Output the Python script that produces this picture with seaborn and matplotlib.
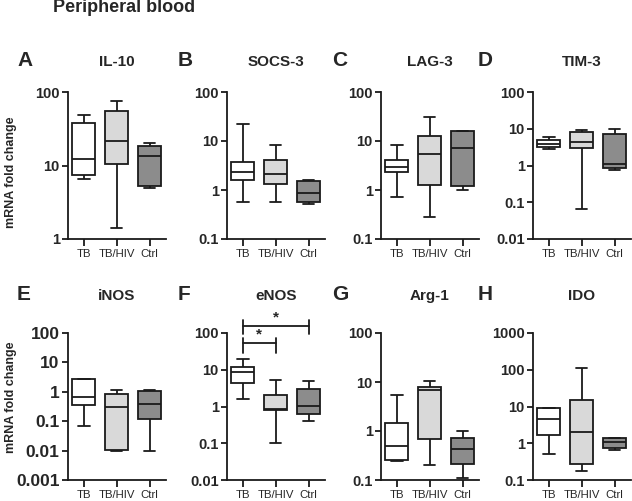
import numpy as np
import pandas as pd
import matplotlib
matplotlib.use("Agg")
import matplotlib.pyplot as plt
import seaborn as sns

sns.set_style("ticks")
plt.rcParams['font.family'] = ['Liberation Sans', 'DejaVu Sans']

groups = ["TB", "TB/HIV", "Ctrl"]
colors = ["#ffffff", "#d9d9d9", "#8c8c8c"]

# five-number summaries per group: min, q1, median, q3, max
il10 = {"TB": [6.65, 7.46, 12.4, 37.8, 49], "TB/HIV": [1.43, 10.6, 21.7, 54.5, 75], "Ctrl": [4.9, 5.2, 13.3, 18.4, 20.4]}
socs3 = {"TB": [0.58, 1.58, 2.3, 3.7, 22], "TB/HIV": [0.58, 1.31, 2.1, 4.06, 8.1], "Ctrl": [0.51, 0.56, 0.86, 1.54, 1.58]}
lag3 = {"TB": [0.72, 2.28, 2.97, 4.13, 8.1], "TB/HIV": [0.28, 1.27, 5.4, 12.4, 30.8], "Ctrl": [1.02, 1.21, 7.05, 15.9, 15.9]}
tim3 = {"TB": [2.86, 3.1, 3.74, 5.0, 6.04], "TB/HIV": [0.065, 2.92, 4.42, 8.26, 9.2], "Ctrl": [0.755, 0.855, 1.08, 7.13, 9.75]}
inos = {"TB": [0.069, 0.342, 0.676, 2.77, 2.77], "TB/HIV": [0.01, 0.0101, 0.316, 0.81, 1.14], "Ctrl": [0.01, 0.123, 0.39, 1.1, 1.14]}
enos = {"TB": [1.61, 4.4, 8.9, 11.7, 20.1], "TB/HIV": [0.103, 0.78, 0.88, 2.07, 5.4], "Ctrl": [0.41, 0.61, 1.02, 2.96, 4.87]}
arg1 = {"TB": [0.25, 0.26, 0.50, 1.44, 5.48], "TB/HIV": [0.206, 0.70, 6.94, 7.74, 10.4], "Ctrl": [0.112, 0.21, 0.42, 0.73, 1.02]}
ido = {"TB": [0.52, 1.69, 4.7, 9.0, 9.2], "TB/HIV": [0.18, 0.27, 2.0, 14.6, 113], "Ctrl": [0.67, 0.75, 1.11, 1.37, 1.43]}

titles = ["IL-10", "SOCS-3", "LAG-3", "TIM-3", "iNOS", "eNOS", "Arg-1", "IDO"]
letters = ["A", "B", "C", "D", "E", "F", "G", "H"]
datasets = [il10, socs3, lag3, tim3, inos, enos, arg1, ido]
yticks = [
    [1, 10, 100], [0.1, 1, 10, 100], [0.1, 1, 10, 100], [0.01, 0.1, 1, 10, 100],
    [0.001, 0.01, 0.1, 1, 10, 100], [0.01, 0.1, 1, 10, 100], [0.1, 1, 10, 100], [0.1, 1, 10, 100, 1000],
]
ytick_labels = [
    ["1", "10", "100"], ["0.1", "1", "10", "100"], ["0.1", "1", "10", "100"], ["0.01", "0.1", "1", "10", "100"],
    ["0.001", "0.01", "0.1", "1", "10", "100"], ["0.01", "0.1", "1", "10", "100"], ["0.1", "1", "10", "100"], ["0.1", "1", "10", "100", "1000"],
]

# eNOS significance brackets: (group a, group b, bracket level, tick low, tick high)
sig_brackets = [(0, 2, 155, 96, 220), (0, 1, 52, 28.6, 75)]

W, H = 632, 501
fig = plt.figure(figsize=(W / 100, H / 100), dpi=100)

lefts = [68, 227, 381, 533]
letter_x = [17, 178, 332, 478]
row_top = [92, 333]
row_bot = [239, 480]
title_y = [62, 296]
aw = 98
lc = "#1a1a1a"

for i, (d, t, let) in enumerate(zip(datasets, titles, letters)):
    r, c = divmod(i, 4)
    l = lefts[c]
    ax = fig.add_axes([l / W, 1 - row_bot[r] / H, aw / W, (row_bot[r] - row_top[r]) / H])
    df = pd.DataFrame([(g, v) for g in groups for v in d[g]], columns=["group", "value"])
    sns.boxplot(data=df, x="group", y="value", hue="group", order=groups, hue_order=groups,
                palette=colors, legend=False, width=0.7, whis=(0, 100), log_scale=True,
                linecolor=lc, linewidth=1.3, fliersize=0, ax=ax)
    ax.set_yscale("log")
    ax.set_ylim(yticks[i][0], yticks[i][-1])
    ax.set_xlim(-0.48, 2.5)
    ax.minorticks_off()
    ax.set_yticks(yticks[i])
    ax.set_yticklabels(ytick_labels[i], fontweight="bold", fontsize=(12.5 if i == 4 else 10.5))
    ax.set_xticks(range(3))
    ax.set_xticklabels(groups, fontsize=8.2)
    ax.set_xlabel("")
    ax.set_ylabel("")
    for s in ["top", "right"]:
        ax.spines[s].set_visible(False)
    for s in ["left", "bottom"]:
        ax.spines[s].set_linewidth(1.3)
        ax.spines[s].set_color(lc)
    ax.tick_params(axis="both", length=4, width=1.3, color=lc, pad=2)
    ax.tick_params(axis="x", length=5)
    fig.text((l + aw / 2) / W, 1 - title_y[r] / H, t, ha="center", va="center", fontsize=11, fontweight="bold")
    fig.text(letter_x[c] / W, 1 - (title_y[r] - 1) / H, let, ha="left", va="center", fontsize=15, fontweight="bold")
    if i == 5:
        for a, b, lvl, lo, hi in sig_brackets:
            ax.plot([a, b], [lvl, lvl], color=lc, lw=1.3, clip_on=False)
            for xx in (a, b):
                ax.plot([xx, xx], [lo, hi], color=lc, lw=1.3, clip_on=False)
            ax.text((a + b) / 2, lvl * 1.12, "*", ha="center", va="bottom", fontsize=11, fontweight="bold")

fig.text(11 / W, 1 - 172 / H, "mRNA fold change", rotation=90, ha="center", va="center", fontsize=9, fontweight="bold")
fig.text(11 / W, 1 - 397 / H, "mRNA fold change", rotation=90, ha="center", va="center", fontsize=9, fontweight="bold")
fig.text(53 / W, 1 - 8 / H, "Peripheral blood", ha="left", va="center", fontsize=13, fontweight="bold")

fig.savefig("out.png", dpi=100)
